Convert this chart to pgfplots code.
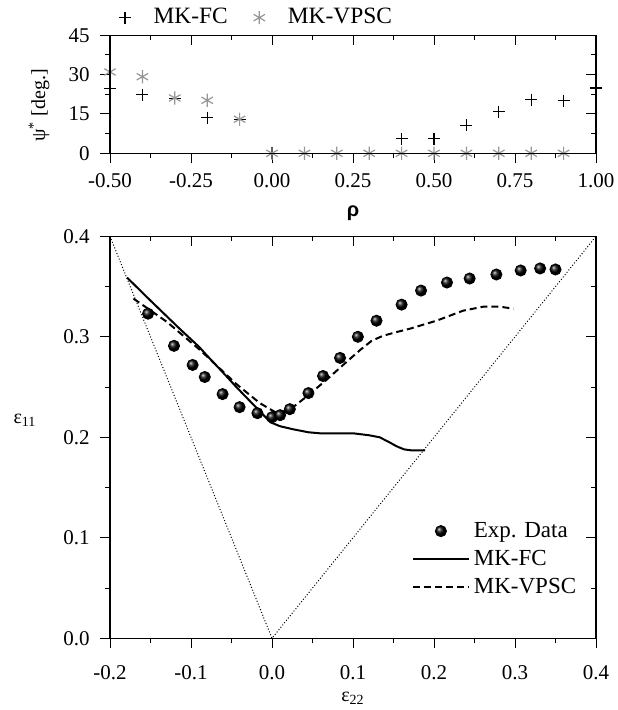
\documentclass[border=0pt]{standalone}
\usepackage{pgfplots}
\pgfplotsset{compat=1.18}
\usepackage{fontspec}
\setmainfont{Liberation Serif}
\setsansfont{Liberation Sans}
\usetikzlibrary{plotmarks}
\definecolor{vpscgray}{RGB}{150,150,150}
\pgfplotsset{
  myframe/.style={
    scale only axis, width=243pt,
    /pgf/number format/assume math mode=true,
    tick label style={font=\fontsize{10.5}{12}\selectfont},
    major tick length=5pt, minor tick length=2.5pt,
    every tick/.style={black, line width=0.5pt},
    axis line style={line width=0.6pt},
  },
  outer/.style={myframe, tick align=outside, xtick pos=left, ytick pos=left},
  inner/.style={myframe, tick align=inside, xtick pos=right, ytick pos=right,
    xticklabels={}, yticklabels={}},
  bottomlims/.style={height=201pt, at={(0pt,0pt)}, anchor=south west,
    xmin=-0.2, xmax=0.4, ymin=0, ymax=0.4,
    xtick={-0.2,-0.1,0,0.1,0.2,0.3,0.4}, ytick={0,0.1,0.2,0.3,0.4},
    minor x tick num=1, minor y tick num=1},
  toplims/.style={height=59pt, at={(0pt,242.5pt)}, anchor=south west,
    xmin=-0.5, xmax=1.0, ymin=0, ymax=45,
    xtick={-0.5,-0.25,0,0.25,0.5,0.75,1}, ytick={0,15,30,45},
    minor x tick num=1, minor y tick num=1},
  balllegend/.style={legend image code/.code={\path (0pt,0pt) (28pt,0pt); \draw[##1] plot coordinates {(14pt,0pt)};}},
  toplegend/.style={legend image code/.code={\path (-4pt,0pt) (12pt,0pt); \draw[##1] plot coordinates {(0pt,0pt)};}},
}
\begin{document}
\begin{tikzpicture}
\useasboundingbox (-55pt,-35.85pt) rectangle (253.5pt,319.15pt);
% ---------------- bottom axis ----------------
\begin{axis}[outer, bottomlims,
  xticklabel style={yshift=-5pt, /pgf/number format/fixed, /pgf/number format/fixed zerofill, /pgf/number format/precision=1},
  yticklabel style={xshift=-1.7pt, /pgf/number format/fixed, /pgf/number format/fixed zerofill, /pgf/number format/precision=1},
  xlabel={ε\textsubscript{22}}, ylabel={ε\textsubscript{11}},
  label style={font=\fontsize{12}{14}\selectfont},
  every axis x label/.style={at={(axis description cs:0.5,0)}, anchor=base, yshift=-31.8pt},
  every axis y label/.style={at={(axis description cs:-0.175,0.542)}, anchor=center},
  legend style={at={(axis description cs:0.608,0.31)}, anchor=north west, draw=none, fill=none,
    font=\fontsize{11.5}{13}\selectfont, row sep=1pt},
  legend cell align=left,
  legend image code/.code={\draw[#1] (0pt,0pt) -- (28pt,0pt);},
]
\addplot[forget plot, densely dotted, line width=0.5pt] coordinates {(-0.2,0.4) (0,0) (0.4,0.4)};
\addplot[only marks, mark=ball, mark size=2.8pt, mark options={ball color=black}, balllegend] coordinates {
(-0.153,0.323) (-0.121,0.291) (-0.098,0.272) (-0.083,0.260) (-0.061,0.243)
(-0.040,0.230) (-0.018,0.224) (0.000,0.220) (0.010,0.222) (0.022,0.228)
(0.045,0.244) (0.063,0.261) (0.084,0.279) (0.106,0.300) (0.129,0.316)
(0.160,0.332) (0.184,0.346) (0.216,0.354) (0.244,0.358) (0.277,0.362)
(0.307,0.366) (0.331,0.368) (0.350,0.367)};
\addlegendentry{Exp. Data}
\addplot[black, line width=1pt] coordinates {
(-0.179,0.359) (-0.150,0.336) (-0.114,0.308) (-0.090,0.290) (-0.081,0.282)
(-0.060,0.264) (-0.044,0.250) (-0.020,0.230) (-0.002,0.215) (0.010,0.211)
(0.026,0.208) (0.045,0.205) (0.059,0.204) (0.080,0.204) (0.100,0.204)
(0.120,0.202) (0.133,0.200) (0.145,0.195) (0.154,0.191) (0.163,0.188)
(0.172,0.187) (0.189,0.187)};
\addlegendentry{MK-FC}
\addplot[black, line width=1pt, dash pattern=on 3.5pt off 2pt] coordinates {
(-0.171,0.338) (-0.130,0.315) (-0.089,0.287) (-0.044,0.253) (-0.015,0.234)
(0.004,0.225) (0.012,0.225) (0.026,0.230) (0.045,0.242) (0.067,0.257)
(0.092,0.275) (0.109,0.287) (0.123,0.296) (0.137,0.301) (0.155,0.305)
(0.170,0.308) (0.203,0.316) (0.236,0.326) (0.261,0.330) (0.281,0.330)
(0.298,0.328)};
\addlegendentry{MK-VPSC}
\end{axis}
\begin{axis}[inner, bottomlims]
\end{axis}
% ---------------- top axis ----------------
\begin{axis}[outer, toplims, clip=false,
  xticklabel style={yshift=-1.5pt, /pgf/number format/fixed, /pgf/number format/fixed zerofill, /pgf/number format/precision=2},
  yticklabel style={xshift=-1.7pt},
  xlabel={\sffamily\bfseries ρ}, ylabel={ψ\textsuperscript{*} [deg.]},
  label style={font=\fontsize{12}{14}\selectfont},
  every axis x label/.style={at={(axis description cs:0.5,0)}, anchor=center, yshift=-30pt},
  every axis y label/.style={at={(axis description cs:-0.146,0.407)}, anchor=center, rotate=90},
  legend style={at={(axis description cs:0,1)}, anchor=south west, draw=none, fill=none,
    font=\fontsize{11.7}{13}\selectfont, legend columns=-1,
    /tikz/every even column/.append style={column sep=9.5pt}},
]
\addplot[only marks, mark=+, mark size=3pt, line width=0.6pt, black, toplegend] coordinates {
(-0.5,24.7) (-0.4,22.4) (-0.3,21) (-0.2,13.6) (-0.1,13) (0,0) (0.1,0) (0.2,0) (0.3,0)
(0.4,5.6) (0.5,5.6) (0.6,10.7) (0.7,15.8) (0.8,20.5) (0.9,20.1) (1.0,24.9)};
\addlegendentry{MK-FC}
\addplot[only marks, mark=asterisk, mark size=3.3pt, line width=0.6pt, vpscgray, toplegend] coordinates {
(-0.5,31) (-0.4,29.2) (-0.3,21.1) (-0.2,20.2) (-0.1,13) (0,0) (0.1,0) (0.2,0) (0.3,0)
(0.4,0) (0.5,0) (0.6,0) (0.7,0) (0.8,0) (0.9,0)};
\addlegendentry{MK-VPSC}
\end{axis}
\begin{axis}[inner, toplims]
\end{axis}
\end{tikzpicture}
\end{document}
